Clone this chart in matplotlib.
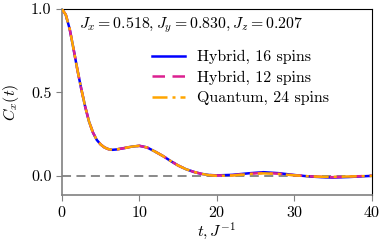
import matplotlib
matplotlib.use("Agg")
import matplotlib.pyplot as plt

plt.rcParams['font.family'] = 'serif'
plt.rcParams['font.serif'] = ['cmr10', 'DejaVu Serif']
plt.rcParams['mathtext.fontset'] = 'cm'
plt.rcParams['axes.formatter.use_mathtext'] = True

t = [0, 0.5, 1, 1.5, 2, 2.5, 3, 3.5, 4, 4.5, 5, 5.5, 6, 6.5, 7, 8, 9, 10, 11, 12, 13, 14, 15,
     16, 17, 18, 19, 20, 22, 24, 26, 28, 30, 32, 34, 35, 37, 40]
hybrid16 = [1.0, 0.965, 0.88, 0.76, 0.635, 0.52, 0.415, 0.325, 0.26, 0.215, 0.188, 0.17, 0.16,
            0.156, 0.158, 0.166, 0.175, 0.18, 0.17, 0.146, 0.12, 0.09, 0.062, 0.04, 0.024, 0.012,
            0.005, 0.003, 0.006, 0.015, 0.022, 0.016, 0.005, -0.004, -0.009, -0.01, -0.007, 0.0]
hybrid12 = [1.0, 0.965, 0.88, 0.76, 0.635, 0.52, 0.415, 0.325, 0.26, 0.215, 0.188, 0.17, 0.16,
            0.156, 0.158, 0.166, 0.175, 0.18, 0.17, 0.146, 0.12, 0.09, 0.062, 0.04, 0.024, 0.012,
            0.005, 0.002, 0.004, 0.012, 0.018, 0.013, 0.004, -0.003, -0.007, -0.008, -0.005, 0.001]
quantum24 = [1.0, 0.965, 0.88, 0.76, 0.635, 0.52, 0.415, 0.325, 0.26, 0.215, 0.188, 0.17, 0.16,
             0.156, 0.158, 0.166, 0.175, 0.18, 0.17, 0.146, 0.12, 0.09, 0.062, 0.04, 0.024, 0.012,
             0.004, 0.0, 0.002, 0.01, 0.015, 0.011, 0.003, -0.003, -0.006, -0.006, -0.004, 0.0]
labels = ['Hybrid, 16 spins', 'Hybrid, 12 spins', 'Quantum, 24 spins']
title = r'$J_x=0.518, J_y=0.830, J_z=0.207$'

fig = plt.figure(figsize=(3.87, 2.42), dpi=100)
ax = fig.add_axes([0.160, 0.194, 0.801, 0.769])

ax.axhline(0.0, color='#808080', ls=(0, (5, 3)), lw=1.3, zorder=1)
ax.plot(t, hybrid16, color='#0000ff', lw=1.8, ls='-', label=labels[0], zorder=2)
ax.plot(t, hybrid12, color='#dc2090', lw=1.8, ls=(0, (5, 3)), label=labels[1], zorder=3)
ax.plot(t, quantum24, color='#ffa500', lw=1.8, ls=(0, (6, 2, 1.2, 2)), label=labels[2], zorder=4)

ax.set_xlim(0, 40)
ax.set_ylim(-0.115, 1.0)
ax.set_xticks([0, 10, 20, 30, 40])
ax.set_yticks([0.0, 0.5, 1.0])
ax.set_yticklabels(['0.0', '0.5', '1.0'])
ax.tick_params(labelsize=11.5, color='#808080', length=4)
for s in ['left', 'bottom']:
    ax.spines[s].set_color('#808080')
    ax.spines[s].set_linewidth(1.2)
for s in ['top', 'right']:
    ax.spines[s].set_color('black')

ax.set_xlabel(r'$t, J^{-1}$', fontsize=11.5, labelpad=0)
ax.set_ylabel(r'$C_x(t)$', fontsize=11.5, labelpad=7)
ax.text(0.055, 0.915, title, transform=ax.transAxes, fontsize=11.4, va='center', ha='left')
ax.legend(loc='upper left', bbox_to_anchor=(0.29, 0.78), frameon=False, fontsize=11.5,
          handlelength=2.05, handletextpad=0.75, labelspacing=0.4,
          borderaxespad=0, borderpad=0)

fig.savefig('out.png', dpi=100)
